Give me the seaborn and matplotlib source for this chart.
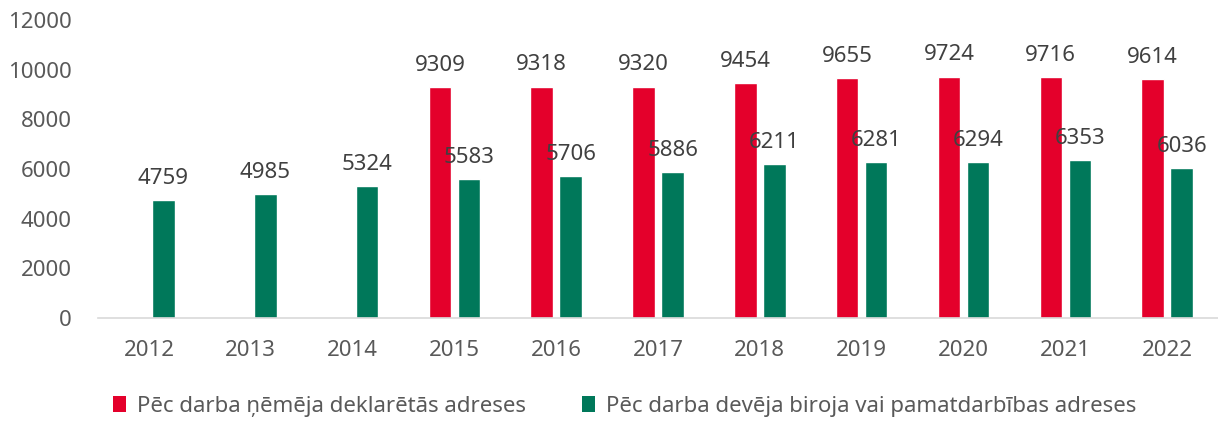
import numpy as np
import pandas as pd
import matplotlib
matplotlib.use("Agg")
import matplotlib.pyplot as plt
from matplotlib.patches import Patch
import seaborn as sns

years = ["2012", "2013", "2014", "2015", "2016", "2017", "2018", "2019", "2020", "2021", "2022"]
declared = [np.nan, np.nan, np.nan, 9309, 9318, 9320, 9454, 9655, 9724, 9716, 9614]
employer = [4759, 4985, 5324, 5583, 5706, 5886, 6211, 6281, 6294, 6353, 6036]
series_names = ["Pēc darba ņēmēja deklarētās adreses",
                "Pēc darba devēja biroja vai pamatdarbības adreses"]
colors = ["#E4002B", "#00785A"]

df = pd.DataFrame({
    "year": years * 2,
    "value": declared + employer,
    "series": [series_names[0]] * len(years) + [series_names[1]] * len(years),
})

sns.set_theme(style="white")
plt.rcParams["font.family"] = ["Noto Sans", "DejaVu Sans"]

fig = plt.figure(figsize=(12.18, 4.21), dpi=100)
ax = fig.add_axes([0.0805, 0.2447, 0.9195, 0.7078])

sns.barplot(data=df, x="year", y="value", hue="series", order=years,
            hue_order=series_names, palette=colors, width=0.57, gap=0.225,
            saturation=1, legend=False, ax=ax)

for cont in ax.containers:
    labels = ["" if np.isnan(b.get_height()) or b.get_height() == 0 else f"{b.get_height():.0f}"
              for b in cont]
    ax.bar_label(cont, labels=labels, padding=8, fontsize=16, color="#404040")

ax.set_ylim(0, 12000)
ax.set_yticks(range(0, 12001, 2000))
ax.set_xlim(-0.5, len(years) - 0.5)
ax.set_xlabel("")
ax.set_ylabel("")
ax.tick_params(axis="both", length=0, labelsize=16, labelcolor="#595959")
ax.tick_params(axis="y", pad=19)
ax.tick_params(axis="x", pad=16)
for side in ["left", "right", "top"]:
    ax.spines[side].set_visible(False)
ax.spines["bottom"].set_color("#D9D9D9")
ax.spines["bottom"].set_linewidth(1.2)

handles = [Patch(facecolor=c, edgecolor="none") for c in colors]
fig.legend(handles, series_names, loc="center", bbox_to_anchor=(0.5127, 0.035),
           ncol=2, frameon=False, fontsize=16, labelcolor="#595959",
           handlelength=0.6, handleheight=0.75, handletextpad=0.5,
           columnspacing=2.5)

fig.savefig("out.png", dpi=100, facecolor="white")
